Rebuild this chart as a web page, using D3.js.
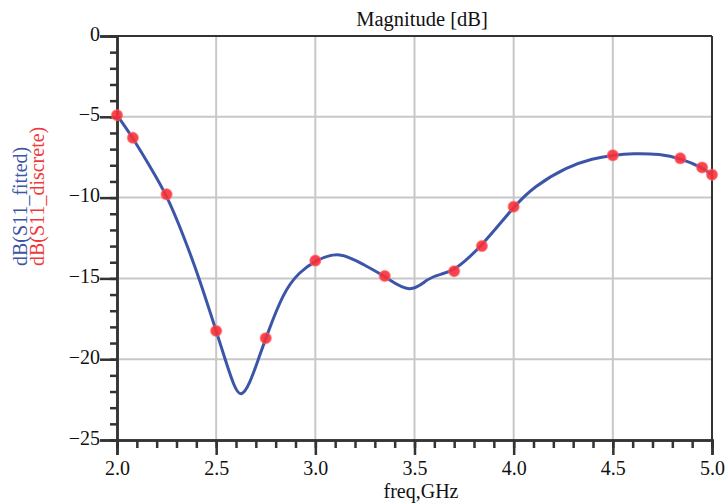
<!DOCTYPE html>
<html>
<head>
<meta charset="utf-8">
<script src="https://cdn.jsdelivr.net/npm/d3@7"></script>
<style>
  body { margin: 0; background: #fff; }
  svg text { font-family: "Liberation Serif", "DejaVu Serif", serif; }
</style>
</head>
<body>
<svg id="chart" width="725" height="503"></svg>
<script>
// discrete samples (red dots)
var discFreq = [2.0, 2.08, 2.25, 2.5, 2.75, 3.0, 3.35, 3.7, 3.84, 4.0, 4.5, 4.84, 4.95, 5.0];
var discDb   = [-4.9, -6.3, -9.8, -18.25, -18.7, -13.9, -14.85, -14.55, -13.0, -10.56, -7.38, -7.57, -8.13, -8.58];

// fitted curve (blue line)
var fitFreq = [2.0, 2.08, 2.16, 2.25, 2.34, 2.415, 2.5, 2.545, 2.59, 2.625, 2.67, 2.713, 2.75, 2.84, 2.92, 3.0, 3.12, 3.25, 3.35, 3.48, 3.57, 3.63, 3.7, 3.84, 4.0, 4.1, 4.27, 4.4, 4.5, 4.6, 4.74, 4.84, 4.95, 5.0];
var fitDb   = [-4.9, -6.3, -7.95, -9.8, -12.5, -15.0, -18.25, -20.0, -21.7, -22.4, -21.5, -20.0, -18.7, -15.8, -14.6, -13.9, -13.3, -14.2, -14.85, -16.0, -14.95, -14.75, -14.55, -13.0, -10.56, -9.33, -8.09, -7.57, -7.38, -7.26, -7.3, -7.57, -8.13, -8.58];

var xTicks = [2.0, 2.5, 3.0, 3.5, 4.0, 4.5, 5.0];
var yTicks = [0, -5, -10, -15, -20, -25];

var svg = d3.select("#chart");
var pLeft = 117, pRight = 712, pTop = 36, pBottom = 440;

var x = d3.scaleLinear().domain([2, 5]).range([pLeft, pRight]);
var y = d3.scaleLinear().domain([-25, 0]).range([pBottom, pTop]);

// grid
var grid = svg.append("g").attr("class", "grid");
grid.selectAll("line.gx").data(xTicks.slice(1, -1)).enter().append("line")
  .attr("x1", d => x(d)).attr("x2", d => x(d)).attr("y1", pTop).attr("y2", pBottom)
  .style("stroke", "#c8c8c8").style("stroke-width", 2);
grid.selectAll("line.gy").data(yTicks.slice(1, -1)).enter().append("line")
  .attr("x1", pLeft).attr("x2", pRight).attr("y1", d => y(d)).attr("y2", d => y(d))
  .style("stroke", "#c8c8c8").style("stroke-width", 2);

// frame top/right
svg.append("line").attr("x1", pLeft).attr("x2", pRight).attr("y1", pTop).attr("y2", pTop)
  .style("stroke", "#333").style("stroke-width", 2);
svg.append("line").attr("x1", pRight).attr("x2", pRight).attr("y1", pTop).attr("y2", pBottom)
  .style("stroke", "#333").style("stroke-width", 2);

// x axis
var xAxis = d3.axisBottom(x).tickValues(xTicks).tickFormat(d3.format(".1f")).tickSize(15).tickPadding(6);
var xMinor = d3.axisBottom(x).tickValues(d3.range(20, 51).map(d => d / 10)).tickSize(8).tickFormat("");
var gxm = svg.append("g").attr("transform", "translate(0," + pBottom + ")").call(xMinor);
var gx = svg.append("g").attr("transform", "translate(0," + pBottom + ")").call(xAxis);

// y axis
var yAxis = d3.axisLeft(y).tickValues(yTicks).tickFormat(d => d === 0 ? "0" : "\u2212" + Math.abs(d)).tickSize(17).tickPadding(0);
var yMinor = d3.axisLeft(y).tickValues(d3.range(-25, 1)).tickSize(7).tickFormat("");
var gym = svg.append("g").attr("transform", "translate(" + pLeft + ",0)").call(yMinor);
var gy = svg.append("g").attr("transform", "translate(" + pLeft + ",0)").call(yAxis);

[gx, gxm, gy, gym].forEach(function(g) {
  g.select(".domain").style("stroke", "#333").style("stroke-width", 2.5);
  g.selectAll(".tick line").style("stroke", "#333").style("stroke-width", 2.5);
  g.selectAll(".tick text").style("font-size", "20px").style("fill", "#111")
    .style("font-family", '"Liberation Serif", serif');
});
gy.selectAll(".tick text").attr("dy", "0.2em");

// fitted curve
var pts = fitFreq.map((f, i) => [f, fitDb[i]]);
var line = d3.line().x(d => x(d[0])).y(d => y(d[1])).curve(d3.curveBasis);
svg.append("path").datum(pts).attr("d", line)
  .style("fill", "none").style("stroke", "#3c55a8").style("stroke-width", 3);

// discrete points
svg.selectAll("circle.disc").data(discFreq).enter().append("circle")
  .attr("cx", d => x(d)).attr("cy", (d, i) => y(discDb[i])).attr("r", 5.5)
  .style("fill", "#f7303a").style("fill-opacity", 0.9)
  .style("stroke", "#ff6a6a").style("stroke-opacity", 0.5).style("stroke-width", 1.5);

// titles
svg.append("text").attr("x", 422).attr("y", 26).attr("text-anchor", "middle")
  .style("font-size", "20.5px").style("fill", "#111").text("Magnitude [dB]");
svg.append("text").attr("x", 421).attr("y", 498).attr("text-anchor", "middle")
  .style("font-size", "20px").style("fill", "#111").text("freq,GHz");

svg.append("text").attr("transform", "translate(27,266) rotate(-90)")
  .style("font-size", "20px").style("fill", "#3c55a8").text("dB(S11_fitted)");
svg.append("text").attr("transform", "translate(44,266) rotate(-90)")
  .style("font-size", "20px").style("fill", "#f03a3a").text("dB(S11_discrete)");
</script>
</body>
</html>
